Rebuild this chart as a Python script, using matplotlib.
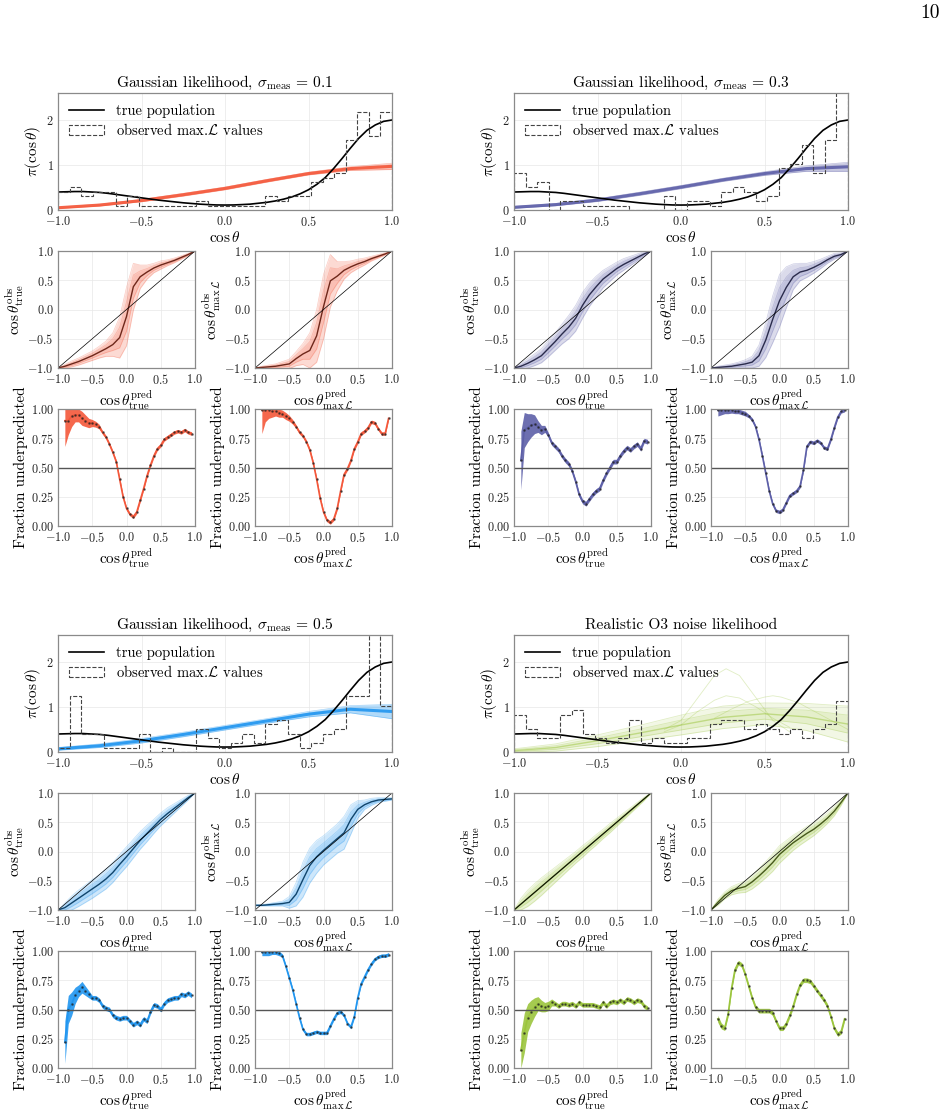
import numpy as np
import matplotlib
matplotlib.use("Agg")
import matplotlib.pyplot as plt
from matplotlib.colors import to_rgb
from matplotlib.ticker import FuncFormatter

plt.rcParams["font.family"] = "serif"
plt.rcParams["font.serif"] = ["cmr10"]
plt.rcParams["mathtext.fontset"] = "cm"
plt.rcParams["axes.formatter.use_mathtext"] = True

W, H = 946, 1113

# ---- data ----
true_x = np.round(np.arange(-1.0, 1.001, 0.05), 2)
true_pi = [0.40, 0.405, 0.41, 0.41, 0.40, 0.39, 0.37, 0.345, 0.32, 0.295, 0.27,
           0.245, 0.22, 0.20, 0.18, 0.16, 0.145, 0.13, 0.12, 0.112, 0.11,
           0.112, 0.12, 0.13, 0.15, 0.17, 0.20, 0.24, 0.29, 0.36, 0.45,
           0.57, 0.72, 0.92, 1.14, 1.37, 1.59, 1.77, 1.89, 1.97, 2.0]

hist_edges = np.linspace(-1, 1, 30)
hist_01 = [0.41, 0.52, 0.31, 0.41, 0.41, 0.10, 0.31, 0.10, 0.10, 0.10, 0.10, 0.10, 0.21, 0.10, 0.10,
           0.10, 0.10, 0.10, 0.31, 0.21, 0.31, 0.31, 0.62, 0.72, 0.83, 1.55, 2.17, 1.65, 2.17]
hist_03 = [0.83, 0.52, 0.62, 0.0, 0.21, 0.21, 0.10, 0.10, 0.10, 0.10, 0.0, 0.0, 0.0, 0.31, 0.0,
           0.21, 0.21, 0.10, 0.41, 0.52, 0.41, 0.21, 0.31, 0.93, 1.03, 1.45, 0.83, 1.55, 3.0]
hist_05 = [0.10, 1.24, 0.41, 0.41, 0.10, 0.10, 0.10, 0.41, 0.0, 0.10, 0.0, 0.0, 0.52, 0.31, 0.10,
           0.21, 0.41, 0.21, 0.62, 0.72, 0.41, 0.10, 0.21, 0.41, 0.52, 1.24, 1.24, 3.0, 1.03]
hist_o3 = [0.83, 0.52, 0.31, 0.31, 0.83, 0.93, 0.41, 0.31, 0.21, 0.31, 0.72, 0.21, 0.31, 0.21, 0.21,
           0.31, 0.31, 0.62, 0.72, 0.72, 0.52, 0.62, 0.52, 0.41, 0.52, 0.31, 0.52, 0.62, 1.13]

# posterior population draws (centre and half spread)
top_x = [-1, -0.75, -0.5, -0.25, 0, 0.25, 0.5, 0.75, 1]
post_01 = [0.05, 0.11, 0.21, 0.34, 0.48, 0.65, 0.81, 0.92, 0.97]
post_01_s = [0.015, 0.02, 0.025, 0.03, 0.03, 0.03, 0.03, 0.04, 0.07]
post_03 = [0.06, 0.12, 0.22, 0.36, 0.51, 0.67, 0.81, 0.92, 0.96]
post_03_s = [0.02, 0.025, 0.03, 0.035, 0.035, 0.035, 0.04, 0.06, 0.1]
post_05 = [0.07, 0.14, 0.25, 0.39, 0.54, 0.69, 0.84, 0.95, 0.9]
post_05_s = [0.03, 0.04, 0.05, 0.05, 0.05, 0.05, 0.06, 0.08, 0.16]
post_o3 = [0.03, 0.1, 0.25, 0.42, 0.6, 0.77, 0.85, 0.78, 0.62]
post_o3_s = [0.04, 0.08, 0.13, 0.17, 0.22, 0.25, 0.24, 0.3, 0.4]
o3_peak_x = [-0.1, 0.0, 0.1, 0.2, 0.27, 0.35, 0.45, 0.55, 0.65]
o3_peak_a = [0.5, 0.7, 1.2, 1.7, 1.85, 1.7, 1.2, 0.7, 0.45]
o3_peak_b = [0.45, 0.6, 0.9, 1.15, 1.25, 1.2, 1.0, 0.75, 0.55]
o3_bump_x = [0.2, 0.3, 0.4, 0.5, 0.55, 0.6, 0.7, 0.8, 0.9, 1.0]
o3_bump = [0.75, 0.95, 1.12, 1.22, 1.25, 1.22, 1.1, 0.9, 0.7, 0.5]

# P-P curves
pp_x = np.round(np.arange(-1.0, 1.001, 0.1), 2)
pp_01_true = [-1, -0.97, -0.93, -0.89, -0.84, -0.79, -0.73, -0.67, -0.6, -0.48, -0.12,
              0.39, 0.56, 0.64, 0.71, 0.76, 0.8, 0.84, 0.89, 0.94, 1.0]
pp_01_true_s = [0, 0.03, 0.05, 0.06, 0.07, 0.08, 0.1, 0.13, 0.2, 0.35, 0.5,
                0.4, 0.2, 0.12, 0.08, 0.07, 0.05, 0.04, 0.03, 0.02, 0]
pp_01_max = [-1, -0.99, -0.98, -0.97, -0.95, -0.93, -0.84, -0.76, -0.7, -0.45, 0.05,
             0.49, 0.57, 0.67, 0.73, 0.78, 0.82, 0.87, 0.91, 0.95, 1.0]
pp_01_max_s = [0, 0.02, 0.03, 0.04, 0.06, 0.08, 0.12, 0.18, 0.3, 0.45, 0.55,
               0.45, 0.25, 0.15, 0.1, 0.08, 0.06, 0.04, 0.03, 0.02, 0]
pp_03_true = [-1, -0.97, -0.92, -0.86, -0.79, -0.67, -0.55, -0.42, -0.3, -0.15, 0.07,
              0.25, 0.39, 0.52, 0.61, 0.7, 0.77, 0.83, 0.89, 0.95, 1.0]
pp_03_true_s = [0, 0.05, 0.08, 0.1, 0.12, 0.14, 0.15, 0.17, 0.2, 0.22, 0.22,
                0.2, 0.18, 0.15, 0.13, 0.11, 0.1, 0.08, 0.06, 0.04, 0]
pp_03_max = [-1, -0.99, -0.98, -0.97, -0.95, -0.93, -0.9, -0.79, -0.52, -0.17, 0.15,
             0.38, 0.56, 0.64, 0.67, 0.72, 0.78, 0.85, 0.91, 0.94, 1.0]
pp_03_max_s = [0, 0.02, 0.03, 0.04, 0.05, 0.07, 0.1, 0.18, 0.3, 0.4, 0.45,
               0.35, 0.22, 0.15, 0.12, 0.1, 0.08, 0.06, 0.05, 0.03, 0]
pp_05_true = [-1, -0.96, -0.88, -0.8, -0.72, -0.64, -0.56, -0.47, -0.36, -0.22, -0.09,
              0.05, 0.19, 0.31, 0.43, 0.55, 0.65, 0.74, 0.83, 0.92, 1.0]
pp_05_true_s = [0, 0.08, 0.12, 0.14, 0.15, 0.16, 0.16, 0.17, 0.17, 0.17, 0.17,
                0.16, 0.15, 0.14, 0.12, 0.11, 0.1, 0.08, 0.06, 0.04, 0]
pp_05_max = [-0.92, -0.92, -0.91, -0.9, -0.89, -0.87, -0.73, -0.48, -0.24, -0.09, 0.02,
             0.12, 0.22, 0.32, 0.55, 0.72, 0.8, 0.85, 0.88, 0.89, 0.9]
pp_05_max_s = [0.01, 0.01, 0.02, 0.03, 0.04, 0.1, 0.2, 0.3, 0.3, 0.28, 0.25,
               0.25, 0.25, 0.28, 0.25, 0.15, 0.08, 0.06, 0.04, 0.03, 0.02]
pp_o3_true = [-1, -0.9, -0.8, -0.7, -0.6, -0.5, -0.4, -0.3, -0.2, -0.1, 0.0,
              0.1, 0.2, 0.3, 0.4, 0.5, 0.6, 0.7, 0.8, 0.9, 1.0]
pp_o3_true_s = [0, 0.1, 0.14, 0.15, 0.15, 0.14, 0.13, 0.12, 0.11, 0.1, 0.1,
                0.09, 0.09, 0.08, 0.08, 0.07, 0.06, 0.05, 0.04, 0.03, 0]
pp_o3_max = [-1, -0.87, -0.75, -0.67, -0.63, -0.6, -0.52, -0.42, -0.31, -0.19, -0.05,
             0.05, 0.15, 0.23, 0.31, 0.38, 0.47, 0.57, 0.69, 0.84, 1.0]
pp_o3_max_s = [0, 0.05, 0.06, 0.07, 0.08, 0.1, 0.12, 0.13, 0.14, 0.15, 0.15,
               0.14, 0.13, 0.12, 0.12, 0.11, 0.1, 0.09, 0.08, 0.05, 0]

# fraction underpredicted
fr_x = np.round(np.arange(-0.9, 0.951, 0.05), 2)
fr_01_true = [0.90, 0.90, 0.94, 0.95, 0.95, 0.92, 0.90, 0.88,
              0.88, 0.87, 0.85, 0.80, 0.76, 0.70, 0.63, 0.55,
              0.40, 0.25, 0.15, 0.10, 0.08, 0.12, 0.22, 0.32,
              0.43, 0.52, 0.60, 0.66, 0.69, 0.74, 0.76, 0.78,
              0.80, 0.81, 0.80, 0.82, 0.80, 0.79]
fr_01_true_w = [0.22, 0.12, 0.09, 0.06, 0.06, 0.06, 0.05, 0.04,
                0.03, 0.025, 0.02, 0.015, 0.015, 0.015, 0.015, 0.015,
                0.015, 0.015, 0.015, 0.015, 0.015, 0.015, 0.015, 0.015,
                0.015, 0.015, 0.015, 0.015, 0.015, 0.015, 0.015, 0.015,
                0.015, 0.015, 0.015, 0.015, 0.015, 0.015]
fr_01_max = [0.99, 0.99, 0.99, 0.98, 0.98, 0.97, 0.96, 0.94,
             0.92, 0.89, 0.85, 0.80, 0.77, 0.72, 0.65, 0.54,
             0.40, 0.24, 0.12, 0.05, 0.03, 0.06, 0.15, 0.30,
             0.44, 0.49, 0.56, 0.66, 0.72, 0.79, 0.81, 0.84,
             0.89, 0.88, 0.83, 0.79, 0.79, 0.92]
fr_01_max_w = [0.2, 0.1, 0.07, 0.05, 0.04, 0.04, 0.03, 0.03,
               0.025, 0.02, 0.015, 0.015, 0.015, 0.015, 0.015, 0.015,
               0.015, 0.015, 0.015, 0.015, 0.015, 0.015, 0.015, 0.015,
               0.015, 0.015, 0.015, 0.015, 0.015, 0.015, 0.015, 0.015,
               0.015, 0.015, 0.015, 0.015, 0.015, 0.015]
fr_03_true = [0.56, 0.82, 0.84, 0.86, 0.87, 0.85, 0.82, 0.83,
              0.78, 0.71, 0.68, 0.65, 0.60, 0.56, 0.53, 0.47,
              0.38, 0.27, 0.21, 0.19, 0.23, 0.27, 0.30, 0.32,
              0.39, 0.45, 0.50, 0.55, 0.55, 0.60, 0.64, 0.67,
              0.65, 0.68, 0.70, 0.66, 0.73, 0.72]
fr_03_true_w = [0.25, 0.15, 0.12, 0.1, 0.08, 0.05, 0.04, 0.03,
                0.02, 0.02, 0.02, 0.02, 0.02, 0.02, 0.02, 0.02,
                0.02, 0.02, 0.02, 0.02, 0.02, 0.02, 0.02, 0.02,
                0.02, 0.02, 0.02, 0.02, 0.02, 0.02, 0.02, 0.02,
                0.02, 0.02, 0.02, 0.02, 0.02, 0.02]
fr_03_max = [0.99, 0.99, 0.99, 0.99, 0.99, 0.98, 0.98, 0.97,
             0.96, 0.94, 0.91, 0.85, 0.74, 0.60, 0.45, 0.30,
             0.19, 0.13, 0.12, 0.14, 0.20, 0.26, 0.28, 0.30,
             0.34, 0.48, 0.68, 0.72, 0.71, 0.73, 0.71, 0.67,
             0.66, 0.74, 0.84, 0.93, 0.98, 0.99]
fr_03_max_w = [0.05, 0.04, 0.03, 0.03, 0.025, 0.02, 0.02, 0.02,
               0.02, 0.015, 0.015, 0.015, 0.015, 0.015, 0.015, 0.015,
               0.015, 0.015, 0.015, 0.015, 0.015, 0.015, 0.015, 0.015,
               0.015, 0.015, 0.015, 0.015, 0.015, 0.015, 0.015, 0.015,
               0.015, 0.015, 0.015, 0.015, 0.015, 0.015]
fr_05_true = [0.22, 0.50, 0.55, 0.62, 0.66, 0.69, 0.66, 0.63,
              0.60, 0.60, 0.58, 0.53, 0.51, 0.50, 0.45, 0.43,
              0.42, 0.43, 0.43, 0.40, 0.37, 0.39, 0.37, 0.42,
              0.40, 0.48, 0.54, 0.53, 0.50, 0.55, 0.58, 0.59,
              0.60, 0.60, 0.63, 0.62, 0.64, 0.62]
fr_05_true_w = [0.18, 0.12, 0.1, 0.07, 0.05, 0.05, 0.04, 0.03,
                0.02, 0.02, 0.02, 0.02, 0.02, 0.02, 0.02, 0.02,
                0.02, 0.02, 0.02, 0.02, 0.02, 0.02, 0.02, 0.02,
                0.02, 0.02, 0.02, 0.02, 0.02, 0.02, 0.02, 0.02,
                0.02, 0.02, 0.02, 0.02, 0.02, 0.02]
fr_05_max = [0.99, 0.99, 0.99, 0.99, 0.99, 0.98, 0.96, 0.87,
             0.77, 0.67, 0.55, 0.43, 0.33, 0.29, 0.29, 0.30,
             0.31, 0.30, 0.30, 0.30, 0.36, 0.42, 0.47, 0.48,
             0.45, 0.38, 0.35, 0.44, 0.60, 0.72, 0.78, 0.84,
             0.89, 0.93, 0.95, 0.96, 0.96, 0.97]
fr_05_max_w = [0.03, 0.03, 0.03, 0.02, 0.02, 0.02, 0.015, 0.015,
               0.015, 0.015, 0.015, 0.015, 0.015, 0.015, 0.015, 0.015,
               0.015, 0.015, 0.015, 0.015, 0.015, 0.015, 0.015, 0.015,
               0.015, 0.015, 0.015, 0.015, 0.015, 0.015, 0.015, 0.015,
               0.015, 0.015, 0.015, 0.015, 0.015, 0.015]
fr_o3_true = [0.15, 0.30, 0.43, 0.48, 0.52, 0.55, 0.53, 0.52,
              0.53, 0.56, 0.55, 0.53, 0.55, 0.55, 0.54, 0.55,
              0.53, 0.56, 0.54, 0.54, 0.54, 0.54, 0.53, 0.52,
              0.56, 0.53, 0.56, 0.57, 0.56, 0.58, 0.56, 0.59,
              0.58, 0.56, 0.58, 0.57, 0.53, 0.51]
fr_o3_true_w = [0.15, 0.17, 0.12, 0.1, 0.08, 0.06, 0.05, 0.04,
                0.04, 0.03, 0.02, 0.02, 0.02, 0.02, 0.02, 0.02,
                0.02, 0.02, 0.02, 0.02, 0.02, 0.02, 0.02, 0.02,
                0.02, 0.02, 0.02, 0.02, 0.02, 0.02, 0.02, 0.02,
                0.02, 0.02, 0.02, 0.02, 0.02, 0.02]
fr_o3_max = [0.42, 0.36, 0.34, 0.46, 0.68, 0.84, 0.90, 0.88,
             0.80, 0.70, 0.60, 0.52, 0.49, 0.49, 0.49, 0.49,
             0.47, 0.40, 0.34, 0.34, 0.38, 0.45, 0.53, 0.63,
             0.71, 0.75, 0.75, 0.74, 0.70, 0.66, 0.62, 0.58,
             0.53, 0.44, 0.34, 0.29, 0.31, 0.42]
fr_o3_max_w = [0.03, 0.025, 0.02, 0.02, 0.02, 0.02, 0.02, 0.02,
               0.02, 0.02, 0.02, 0.02, 0.02, 0.02, 0.02, 0.02,
               0.02, 0.02, 0.02, 0.02, 0.02, 0.02, 0.02, 0.02,
               0.02, 0.02, 0.02, 0.02, 0.02, 0.02, 0.02, 0.02,
               0.02, 0.02, 0.02, 0.02, 0.02, 0.02]

titles = [r"Gaussian likelihood, $\sigma_{\mathrm{meas}}\,=\,0.1$",
          r"Gaussian likelihood, $\sigma_{\mathrm{meas}}\,=\,0.3$",
          r"Gaussian likelihood, $\sigma_{\mathrm{meas}}\,=\,0.5$",
          "Realistic O3 noise likelihood"]
colors = ["#f4573a", "#5d5fa8", "#2196f0", "#9bc53d"]

FS_TICK = 8.8
FS_LAB = 11
GRID = "#e8e8e8"
SPINE = "#8a8a8a"

fmt1 = FuncFormatter(lambda v, p: "$%.1f$" % v)
fmt2 = FuncFormatter(lambda v, p: "$%.2f$" % v)
fmt0 = FuncFormatter(lambda v, p: "$%d$" % v)


def ax_px(fig, x0, y0, x1, y1):
    return fig.add_axes([x0 / W, 1 - y1 / H, (x1 - x0) / W, (y1 - y0) / H])


def style(ax):
    for s in ax.spines.values():
        s.set_color(SPINE)
        s.set_linewidth(0.9)
    ax.tick_params(axis="x", length=0, pad=3.5, labelsize=FS_TICK, colors="#222222")
    ax.tick_params(axis="y", length=0, pad=3.0, labelsize=FS_TICK, colors="#222222")
    ax.grid(True, color=GRID, lw=0.5)
    ax.set_axisbelow(True)


def darker(c, f=0.45):
    r, g, b = to_rgb(c)
    return (r * f, g * f, b * f)


def draw_top(ax, c, mid, spread, hist, title, extra=None):
    mid = np.array(mid)
    spread = np.array(spread)
    if extra:
        ax.fill_between(top_x, mid - spread, mid + spread, color=c, alpha=0.13, lw=0)
        ax.fill_between(top_x, mid - 0.5 * spread, mid + 0.5 * spread, color=c, alpha=0.15, lw=0)
        for xs, ys in extra:
            ax.plot(xs, ys, color=c, lw=0.6, alpha=0.3)
        for sgn in (-1, -0.5, 0.5, 1):
            ax.plot(top_x, mid + sgn * spread, color=c, lw=0.6, alpha=0.3)
        ax.plot(top_x, mid, color=c, lw=1.0, alpha=0.5)
    else:
        ax.fill_between(top_x, mid - spread, mid + spread, color=c, alpha=0.35, lw=0)
        ax.plot(top_x, mid - spread, color=c, alpha=0.4, lw=0.5)
        ax.plot(top_x, mid + spread, color=c, alpha=0.4, lw=0.5)
        ax.plot(top_x, mid, color=c, lw=2.2, alpha=0.9)
    ax.plot(true_x, true_pi, color="k", lw=1.2, label="true population")
    centers = 0.5 * (hist_edges[1:] + hist_edges[:-1])
    ax.hist(centers, bins=hist_edges, weights=hist, histtype="step", ls="--",
            color="#444444", lw=0.8, label=r"observed max.$\mathcal{L}$ values")
    ax.set_xlim(-1, 1)
    ax.set_ylim(0, 2.6)
    ax.set_xticks([-1, -0.5, 0, 0.5, 1])
    ax.set_yticks([0, 1, 2])
    ax.xaxis.set_major_formatter(fmt1)
    ax.yaxis.set_major_formatter(fmt0)
    ax.set_xlabel(r"$\cos\theta$", fontsize=FS_LAB, labelpad=1)
    ax.set_ylabel(r"$\pi(\cos\theta)$", fontsize=FS_LAB, labelpad=2)
    ax.set_title(title, fontsize=11.2, pad=4)
    ax.legend(loc="upper left", frameon=False, fontsize=10.5, handlelength=2.4,
              borderaxespad=0.35, labelspacing=0.3)
    style(ax)


def draw_pp(ax, c, mid, spread, ylab, xlab):
    mid = np.array(mid)
    spread = np.array(spread)
    ax.fill_between(pp_x, mid - spread, mid + spread, color=c, alpha=0.22, lw=0)
    ax.fill_between(pp_x, mid - 0.5 * spread, mid + 0.5 * spread, color=c, alpha=0.2, lw=0)
    for sgn in (-1, -0.5, 0.5, 1):
        ax.plot(pp_x, mid + sgn * spread, color=c, alpha=0.3, lw=0.5)
    ax.plot(pp_x, mid, color=darker(c), lw=1.0)
    ax.axline((0, 0), slope=1, color="k", lw=0.5)
    ax.set_xlim(-1, 1)
    ax.set_ylim(-1, 1)
    ax.set_xticks([-1, -0.5, 0, 0.5, 1])
    ax.set_yticks([-1, -0.5, 0, 0.5, 1])
    ax.xaxis.set_major_formatter(fmt1)
    ax.yaxis.set_major_formatter(fmt1)
    ax.set_xlabel(xlab, fontsize=FS_LAB, labelpad=1)
    ax.set_ylabel(ylab, fontsize=FS_LAB, labelpad=1)
    style(ax)


def draw_frac(ax, c, mid, w, xlab):
    mid = np.array(mid)
    w = np.array(w)
    ax.fill_between(fr_x, np.clip(mid - w, 0, 1), np.clip(mid + w, 0, 1), color=c, alpha=0.9, lw=0)
    ax.plot(fr_x, mid, color=c, lw=1.2)
    ax.plot(fr_x, mid, ".", color="#222222", ms=1.8, alpha=0.6)
    ax.axhline(0.5, color="#555555", lw=1.0)
    ax.set_xlim(-1, 1)
    ax.set_ylim(0, 1)
    ax.set_xticks([-1, -0.5, 0, 0.5, 1])
    ax.set_yticks([0, 0.25, 0.5, 0.75, 1])
    ax.xaxis.set_major_formatter(fmt1)
    ax.yaxis.set_major_formatter(fmt2)
    ax.set_xlabel(xlab, fontsize=FS_LAB, labelpad=1)
    ax.set_ylabel("Fraction underpredicted", fontsize=FS_LAB, labelpad=2)
    style(ax)


lab_true_obs = r"$\cos\theta^{\mathrm{obs}}_{\mathrm{true}}$"
lab_true_pred = r"$\cos\theta^{\mathrm{pred}}_{\mathrm{true}}$"
lab_max_obs = r"$\cos\theta^{\mathrm{obs}}_{\max\,\mathcal{L}}$"
lab_max_pred = r"$\cos\theta^{\mathrm{pred}}_{\max\,\mathcal{L}}$"

groups = [
    (post_01, post_01_s, hist_01, None,
     pp_01_true, pp_01_true_s, pp_01_max, pp_01_max_s,
     fr_01_true, fr_01_true_w, fr_01_max, fr_01_max_w),
    (post_03, post_03_s, hist_03, None,
     pp_03_true, pp_03_true_s, pp_03_max, pp_03_max_s,
     fr_03_true, fr_03_true_w, fr_03_max, fr_03_max_w),
    (post_05, post_05_s, hist_05, None,
     pp_05_true, pp_05_true_s, pp_05_max, pp_05_max_s,
     fr_05_true, fr_05_true_w, fr_05_max, fr_05_max_w),
    (post_o3, post_o3_s, hist_o3,
     [(o3_peak_x, o3_peak_a), (o3_peak_x, o3_peak_b), (o3_bump_x, o3_bump)],
     pp_o3_true, pp_o3_true_s, pp_o3_max, pp_o3_max_s,
     fr_o3_true, fr_o3_true_w, fr_o3_max, fr_o3_max_w),
]

fig = plt.figure(figsize=(W / 100, H / 100), dpi=100)

offsets = [(0, 0), (456, 0), (0, 542), (456, 542)]
for i, (g, (dx, dy)) in enumerate(zip(groups, offsets)):
    (pm, ps, hh, extra, ppt, ppts, ppm, ppms, frt, frtw, frm, frmw) = g
    c = colors[i]
    ax = ax_px(fig, 58 + dx, 93 + dy, 392 + dx, 210 + dy)
    draw_top(ax, c, pm, ps, hh, titles[i], extra)
    ax = ax_px(fig, 58 + dx, 251 + dy, 195 + dx, 368 + dy)
    draw_pp(ax, c, ppt, ppts, lab_true_obs, lab_true_pred)
    ax = ax_px(fig, 255 + dx, 251 + dy, 392 + dx, 368 + dy)
    draw_pp(ax, c, ppm, ppms, lab_max_obs, lab_max_pred)
    ax = ax_px(fig, 58 + dx, 409 + dy, 195 + dx, 526 + dy)
    draw_frac(ax, c, frt, frtw, lab_true_pred)
    ax = ax_px(fig, 255 + dx, 409 + dy, 392 + dx, 526 + dy)
    draw_frac(ax, c, frm, frmw, lab_max_pred)

fig.text(940 / W, 1 - 4 / H, "10", ha="right", va="top", fontsize=14)

fig.savefig("out.png", dpi=100)
